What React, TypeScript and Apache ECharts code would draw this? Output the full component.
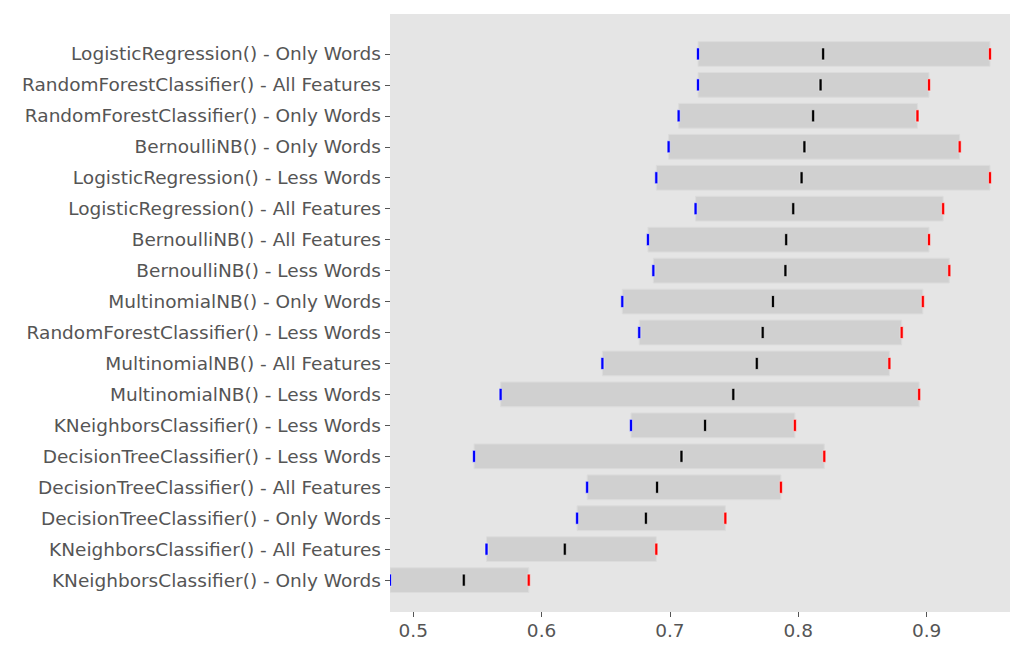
import { useEffect, useRef } from 'react';
import * as echarts from 'echarts';

// top to bottom, as drawn
const models = [
  'LogisticRegression() - Only Words',
  'RandomForestClassifier() - All Features',
  'RandomForestClassifier() - Only Words',
  'BernoulliNB() - Only Words',
  'LogisticRegression() - Less Words',
  'LogisticRegression() - All Features',
  'BernoulliNB() - All Features',
  'BernoulliNB() - Less Words',
  'MultinomialNB() - Only Words',
  'RandomForestClassifier() - Less Words',
  'MultinomialNB() - All Features',
  'MultinomialNB() - Less Words',
  'KNeighborsClassifier() - Less Words',
  'DecisionTreeClassifier() - Less Words',
  'DecisionTreeClassifier() - All Features',
  'DecisionTreeClassifier() - Only Words',
  'KNeighborsClassifier() - All Features',
  'KNeighborsClassifier() - Only Words',
];
const minScores = [0.7219, 0.7219, 0.7068, 0.699, 0.6894, 0.72, 0.6829, 0.6871, 0.6629, 0.6761, 0.6474, 0.5681, 0.6697, 0.5474, 0.6355, 0.6277, 0.5571, 0.4819];
const meanScores = [0.8194, 0.8174, 0.8116, 0.8048, 0.8026, 0.7961, 0.7906, 0.79, 0.7803, 0.7723, 0.7677, 0.7494, 0.7274, 0.709, 0.69, 0.6813, 0.6181, 0.5394];
const maxScores = [0.9494, 0.9019, 0.8929, 0.9258, 0.9494, 0.9129, 0.9019, 0.9177, 0.8971, 0.8806, 0.871, 0.8942, 0.7974, 0.8203, 0.7865, 0.7432, 0.6894, 0.59];
const xTicks = [0.5, 0.6, 0.7, 0.8, 0.9];

const n = models.length;
const yIndex = models.map((_, i) => n - 1 - i);

export default function App() {
  const ref = useRef<HTMLDivElement>(null);

  useEffect(() => {
    if (!ref.current) return undefined;
    const chart = echarts.init(ref.current, undefined, { renderer: 'svg' });
    const labelStyle = { color: '#555555', fontSize: 18.5, fontFamily: 'DejaVu Sans' };

    chart.setOption({
      animation: false,
      grid: { left: 382, right: 6, top: 6, bottom: 44, show: true, backgroundColor: '#e5e5e5', borderWidth: 0 },
      xAxis: {
        type: 'value',
        min: 0.4819,
        max: 0.965,
        axisLine: { show: false, onZero: false },
        splitLine: { show: false },
        axisTick: { show: true, length: 5, customValues: xTicks, lineStyle: { color: '#555555' } },
        axisLabel: { ...labelStyle, margin: 9, customValues: xTicks, formatter: (v: number) => String(Math.round(v * 10) / 10) },
      },
      yAxis: {
        type: 'value',
        min: -1.03,
        max: n - 1 + 1.29,
        axisLine: { show: false, onZero: false },
        splitLine: { show: false },
        axisTick: { show: true, length: 5, customValues: yIndex, lineStyle: { color: '#555555' } },
        axisLabel: {
          ...labelStyle,
          margin: 9,
          customValues: yIndex,
          formatter: (v: number) => models[n - 1 - Math.round(v)] ?? '',
        },
      },
      series: [
        {
          type: 'custom',
          clip: true,
          data: models.map((_, i) => [yIndex[i], minScores[i], meanScores[i], maxScores[i]]),
          renderItem: (params: any, api: any) => {
            const y = api.value(0);
            const lo = api.coord([api.value(1), y]);
            const mid = api.coord([api.value(2), y]);
            const hi = api.coord([api.value(3), y]);
            const h = api.size([0, 0.8])[1];
            const cs = params.coordSys;
            const tick = (p: number[], color: string) => ({
              type: 'rect',
              shape: { x: p[0] - 1.5, y: p[1] - 6, width: 3, height: 12 },
              style: { fill: color, stroke: '#f4f4f4', lineWidth: 0.6 },
            });
            return {
              type: 'group',
              clipPath: { type: 'rect', shape: { x: cs.x, y: cs.y, width: cs.width, height: cs.height } },
              children: [
                {
                  type: 'rect',
                  shape: { x: lo[0], y: lo[1] - h / 2, width: hi[0] - lo[0], height: h },
                  style: { fill: '#d0d0d0', stroke: '#dcdcdc', lineWidth: 1 },
                },
                tick(lo, '#0000ff'),
                tick(mid, '#000000'),
                tick(hi, '#ff0000'),
              ],
            };
          },
        },
      ],
    });

    return () => chart.dispose();
  }, []);

  return <div ref={ref} style={{ width: 1008, height: 648 }} />;
}
